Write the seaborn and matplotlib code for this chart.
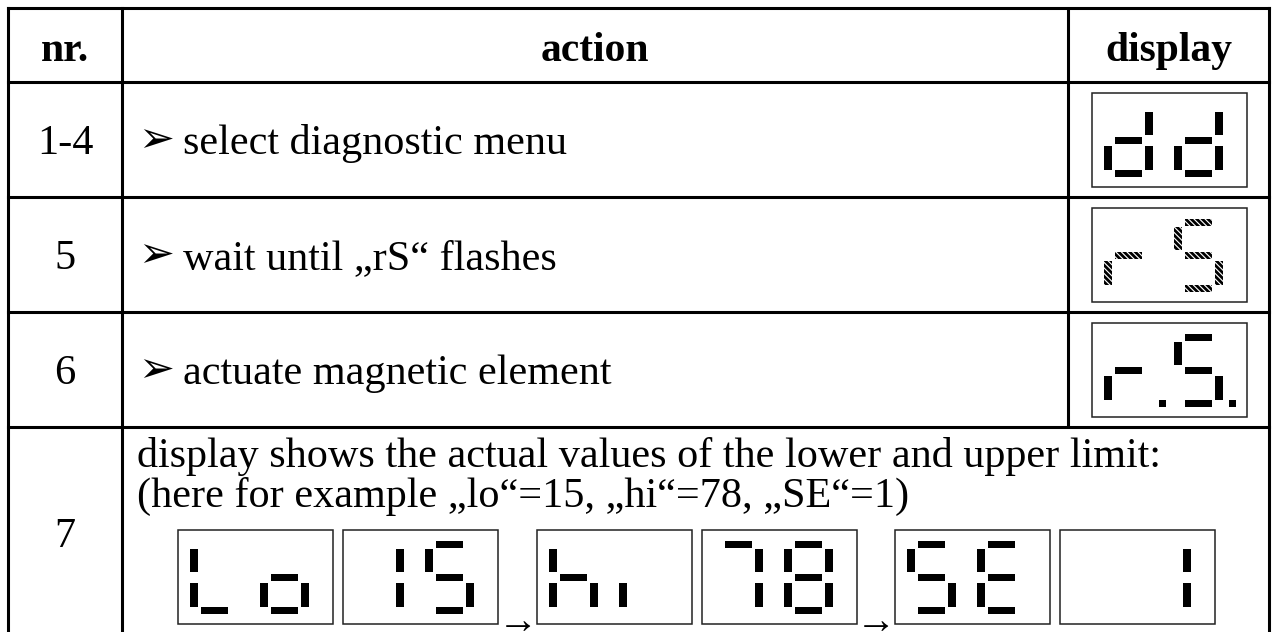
import matplotlib
matplotlib.use("Agg")
import matplotlib.pyplot as plt
import seaborn as sns
from matplotlib.patches import Rectangle

# table content
nr_labels = ["1-4", "5", "6", "7"]
header_labels = ["nr.", "action", "display"]
actions = ["select diagnostic menu", "wait until \u201erS\u201c flashes",
           "actuate magnetic element"]
row7_lines = ["display shows the actual values of the lower and upper limit:",
              "(here for example \u201elo\u201c=15, \u201ehi\u201c=78, \u201eSE\u201c=1)"]
display_codes = ["dd", "rS", "r.S."]
display_flashing = [False, True, False]
sequence_codes = ["Lo", "15", "hi", "78", "SE", " 1"]
sequence_arrows_after = [1, 3]   # arrow after 2nd and 4th display

# seven segment layout: a top, b upper right, c lower right, d bottom,
# e lower left, f upper left, g middle
SEGMENTS = {
    "a": (11, 11, 27, 7), "b": (41, 19, 8, 23), "c": (41, 53, 8, 24),
    "d": (11, 77, 27, 7), "e": (0, 53, 8, 24), "f": (0, 19, 8, 23),
    "g": (11, 44, 27, 7), "dp": (55, 77, 7, 7),
}
CHARS = {
    "d": "bcdeg", "r": "eg", "S": "afgcd", "L": "fed", "o": "cdeg",
    "1": "bc", "5": "afgcd", "h": "fegc", "i": "e", "7": "abc",
    "8": "abcdefg", "E": "afged", " ": "",
}

sns.set_style("white")
plt.rcParams["font.family"] = ["Liberation Serif", "DejaVu Sans"]
plt.rcParams["text.color"] = "black"
plt.rcParams["hatch.linewidth"] = 2.0

fig = plt.figure(figsize=(12.72, 6.32), dpi=100)
ax = fig.add_axes([0, 0, 1, 1])
ax.set_xlim(0, 1272)
ax.set_ylim(632, 0)
ax.axis("off")

BOX_W, BOX_H = 155, 94


def draw_display(x, y, code, flashing=False):
    ax.add_patch(Rectangle((x, y), BOX_W, BOX_H, fill=False, ec="#222222", lw=1.1))
    digits = []
    for ch in code:
        if ch == "." and digits:
            digits[-1] += ["dp"]
        else:
            digits.append(list(CHARS[ch]))
    for i, segs in enumerate(digits):
        dx = x + 12 + 70 * i
        for s in segs:
            sx, sy, sw, sh = SEGMENTS[s]
            if flashing:
                ax.add_patch(Rectangle((dx + sx, y + sy), sw, sh, fc="white",
                                       ec="black", lw=0, hatch="\\\\\\\\\\\\"))
            else:
                ax.add_patch(Rectangle((dx + sx, y + sy), sw, sh, fc="black", lw=0))


# table grid (the action cell of the last row spans two columns)
col_x = [8, 122, 1068, 1269]
row_y = [8, 82, 197, 312, 427, 640]
lw = 2.2
for xx in [col_x[0], col_x[1], col_x[3]]:
    ax.plot([xx, xx], [row_y[0], row_y[-1]], color="black", lw=lw, solid_capstyle="projecting")
ax.plot([col_x[2], col_x[2]], [row_y[0], row_y[4]], color="black", lw=lw)
for yy in row_y[:-1]:
    ax.plot([col_x[0], col_x[-1]], [yy, yy], color="black", lw=lw, solid_capstyle="projecting")

# header
for j, lab in enumerate(header_labels):
    ax.text((col_x[j] + col_x[j + 1]) / 2, 61, lab, ha="center", va="baseline",
            fontsize=30, fontweight="bold")

# rows 1-3
fs = 30.4
for i in range(3):
    top = row_y[i + 1]
    base = top + 72
    ax.text(65, base, nr_labels[i], ha="center", va="baseline", fontsize=fs)
    ax.text(138, base - 14, "\u27a2", ha="left", va="center", fontsize=31,
            family="DejaVu Sans")
    ax.text(183, base, actions[i], ha="left", va="baseline", fontsize=fs)
    draw_display(1092, top + 11, display_codes[i], display_flashing[i])

# row 7
ax.text(65, 547, nr_labels[3], ha="center", va="baseline", fontsize=fs)
ax.text(137, 467, row7_lines[0], ha="left", va="baseline", fontsize=fs)
ax.text(137, 507, row7_lines[1], ha="left", va="baseline", fontsize=fs)

seq_x = [178, 343, 537, 702, 895, 1060]
for k, code in enumerate(sequence_codes):
    draw_display(seq_x[k], 530, code)
    if k in sequence_arrows_after:
        ax.text((seq_x[k] + BOX_W + seq_x[k + 1]) / 2, 624, "\u2192", ha="center",
                va="center", fontsize=29)

fig.savefig("out.png", dpi=100, facecolor="white")
plt.close(fig)
